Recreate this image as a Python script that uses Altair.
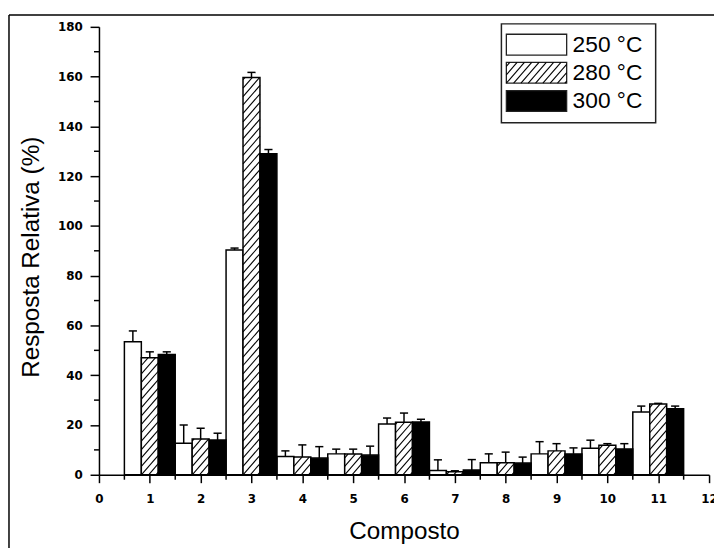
import math
import altair as alt
import pandas as pd

# ---------------- data ----------------
compostos = [1, 2, 3, 4, 5, 6, 7, 8, 9, 10, 11]
series = ["250 °C", "280 °C", "300 °C"]

v250 = [53.5, 12.7, 90.3, 7.3, 8.4, 20.4, 1.7, 4.8, 8.4, 10.7, 25.2]
e250 = [4.3, 7.3, 0.8, 2.3, 1.9, 2.4, 4.3, 3.6, 4.9, 3.2, 2.4]
v280 = [47.0, 14.4, 159.6, 7.1, 8.3, 21.1, 1.2, 4.8, 9.6, 11.9, 28.4]
e280 = [2.4, 4.3, 2.1, 4.9, 2.0, 3.7, 0.4, 4.3, 2.9, 0.6, 0.3]
v300 = [48.3, 14.0, 129.0, 6.7, 7.9, 21.2, 1.9, 4.7, 8.4, 10.4, 26.5]
e300 = [1.1, 2.7, 1.7, 4.6, 3.6, 1.1, 4.2, 2.4, 2.4, 2.1, 1.1]

x_major = list(range(0, 13))
x_minor = [i + 0.5 for i in range(12)]
y_major = list(range(0, 181, 20))
y_minor = list(range(10, 180, 20))

# ---------------- layout ----------------
W, H = 617, 453
PAD = {"left": 92, "top": 16, "right": 5, "bottom": 71}
kx = W / 12.0
ky = H / 180.0
SLOPE = 1.15
SPACING = 8.5

rows = []
for idx, (name, vals, errs) in enumerate(zip(series, [v250, v280, v300], [e250, e280, e300])):
    for c, v, e in zip(compostos, vals, errs):
        rows.append({"composto": c, "serie": name, "idx": idx, "valor": v, "erro": e})
df = pd.DataFrame(rows)


def hatch_segments(bw, bh):
    """Diagonal '/' lines clipped to a box bw x bh (pixels, y upward)."""
    segs = []
    kmin = -int(math.ceil(SLOPE * bw / SPACING)) - 1
    kmax = int(math.ceil(bh / SPACING)) + 1
    for k in range(kmin, kmax + 1):
        c = k * SPACING
        xs = max(0.0, (0.0 - c) / SLOPE)
        xe = min(bw, (bh - c) / SLOPE)
        if xe - xs > 0.3:
            segs.append((xs, c + SLOPE * xs, xe, c + SLOPE * xe))
    return segs


hrows = []
for c, v in zip(compostos, v280):
    xl = c - 1.0 / 6.0
    for xs, ys, xe, ye in hatch_segments(kx / 3.0, v * ky):
        hrows.append({"hx": xl + xs / kx, "hx2": xl + xe / kx, "hy": ys / ky, "hy2": ye / ky})
hatch_df = pd.DataFrame(hrows)

xscale = alt.Scale(domain=[0, 12], nice=False, zero=False)
yscale = alt.Scale(domain=[0, 180], nice=False)

xaxis = alt.Axis(
    values=x_major, format="d", tickSize=8,
    labelFont="DejaVu Sans", labelFontWeight="bold", labelFontSize=12,
    labelPadding=11, labelFlush=False, labelOverlap=False,
    titleFont="Liberation Sans", titleFontSize=24.5, titleFontWeight="normal",
    titleY=64, titleBaseline="alphabetic",
)
yaxis = alt.Axis(
    values=y_major, format="d", tickSize=9,
    labelFont="DejaVu Sans", labelFontWeight="bold", labelFontSize=12,
    labelPadding=8, labelOverlap=False,
    titleFont="Liberation Sans", titleFontSize=24.5, titleFontWeight="normal",
    titleX=-68, titleY=H / 2 + 6, titleAngle=-90, titleAlign="center", titleBaseline="middle",
)


def X(f):
    return alt.X(f, scale=xscale, axis=xaxis, title="Composto")


def Y(f):
    return alt.Y(f, scale=yscale, axis=yaxis, title="Resposta Relativa (%)")


base = alt.Chart(df).transform_calculate(
    x0="datum.composto + (datum.idx - 1) / 3 - 1 / 6",
    x1="datum.composto + (datum.idx - 1) / 3 + 1 / 6",
    xc="datum.composto + (datum.idx - 1) / 3",
    topo="datum.valor + datum.erro",
    cl="datum.composto + (datum.idx - 1) / 3 - 0.08",
    cr="datum.composto + (datum.idx - 1) / 3 + 0.08",
    zero="0",
)

fillscale = alt.Scale(domain=series, range=["white", "white", "black"])

bars = base.mark_rect(stroke="black", strokeWidth=1.5).encode(
    x=X("x0:Q"), x2="x1:Q", y=Y("valor:Q"), y2="zero:Q",
    fill=alt.Fill("serie:N", scale=fillscale, legend=None),
)

hatch = alt.Chart(hatch_df).mark_rule(color="black", strokeWidth=1.1).encode(
    x=X("hx:Q"), x2="hx2:Q", y=Y("hy:Q"), y2="hy2:Q")

errline = base.mark_rule(color="black", strokeWidth=1.5).encode(
    x=X("xc:Q"), y=Y("valor:Q"), y2="topo:Q")
caps = base.mark_rule(color="black", strokeWidth=1.5).encode(
    x=X("cl:Q"), x2="cr:Q", y=Y("topo:Q"))

# minor ticks
xminor = alt.Chart(pd.DataFrame({"t": x_minor})).mark_rule(color="black", strokeWidth=1.5).encode(
    x=X("t:Q"), y=alt.value(H), y2=alt.value(H + 5))
yminor = alt.Chart(pd.DataFrame({"t": y_minor})).mark_rule(color="black", strokeWidth=1.5).encode(
    y=Y("t:Q"), x=alt.value(0), x2=alt.value(-5))

one = pd.DataFrame({"a": [0]})
frame_top = alt.Chart(one).mark_rule(color="black", strokeWidth=1.5).encode(
    x=alt.value(-91), x2=alt.value(640), y=alt.value(-12))
frame_left = alt.Chart(one).mark_rule(color="black", strokeWidth=1.5).encode(
    x=alt.value(-91), y=alt.value(-12), y2=alt.value(560))

# ---------------- legend (pixel layout converted to the plot's units) ----------------
LX0, LX1 = 412, 473
LY0, LSTEP, LH = 18, 28.5, 21
leg_df = pd.DataFrame({
    "serie": series,
    "ly": [(H - (LY0 + i * LSTEP)) / ky for i in range(3)],
    "ly0": [(H - (LY0 + i * LSTEP - LH / 2)) / ky for i in range(3)],
    "ly1": [(H - (LY0 + i * LSTEP + LH / 2)) / ky for i in range(3)],
})

legbox = alt.Chart(one).mark_rect(fill="white", stroke="#222", strokeWidth=1.5).encode(
    x=alt.value(407), x2=alt.value(563), y=alt.value(-3), y2=alt.value(97))

legsw = alt.Chart(leg_df).mark_rect(stroke="#222", strokeWidth=1.3).encode(
    x=alt.value(LX0), x2=alt.value(LX1), y=Y("ly0:Q"), y2="ly1:Q",
    fill=alt.Fill("serie:N", scale=fillscale, legend=None),
)

lh_rows = []
bottom = LY0 + LSTEP + LH / 2
for xs, ys, xe, ye in hatch_segments(LX1 - LX0, LH):
    lh_rows.append({
        "px": (LX0 + xs) / kx, "px2": (LX0 + xe) / kx,
        "py": (H - (bottom - ys)) / ky, "py2": (H - (bottom - ye)) / ky,
    })
leghatch = alt.Chart(pd.DataFrame(lh_rows)).mark_rule(color="black", strokeWidth=1.1).encode(
    x=X("px:Q"), x2="px2:Q", y=Y("py:Q"), y2="py2:Q")

legtext = alt.Chart(leg_df).mark_text(
    align="left", baseline="middle", font="Liberation Sans", fontSize=23, color="black"
).encode(x=alt.value(479), y=Y("ly:Q"), text="serie:N")

chart = alt.layer(
    frame_top, frame_left, bars, hatch, errline, caps, xminor, yminor,
    legbox, legsw, leghatch, legtext
).properties(
    width=W, height=H, padding=PAD, autosize="none"
).configure_view(stroke=None).configure_axis(
    domainColor="black", domainWidth=1.5, tickColor="black", tickWidth=1.5,
    labelColor="black", titleColor="black", grid=False,
)

chart.save("out.html", embed_options={"renderer": "svg", "actions": False})
